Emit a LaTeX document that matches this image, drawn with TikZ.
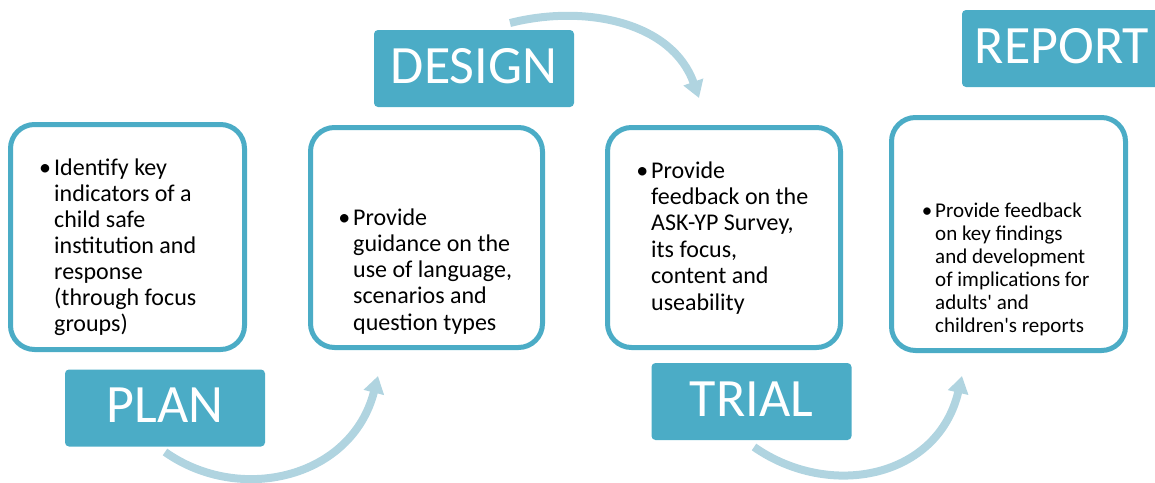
\documentclass[tikz,border=0pt]{standalone}
\usepackage{fontspec}
\setmainfont{Carlito}[Ligatures=TeXOff]
\usetikzlibrary{arrows.meta}
\definecolor{accent}{HTML}{4BACC6}
\definecolor{arrowc}{RGB}{176,212,224}
\tikzset{
  stepbox/.style={draw=accent, line width=5pt, fill=white, rounded corners=24pt, inner sep=0pt},
  labelbox/.style={fill=accent, text=white, rounded corners=4pt, minimum width=200pt, minimum height=77pt,
    text height=35pt, text depth=6pt, inner sep=0pt, font=\fontsize{54}{60}\selectfont},
  bodytext/.style={anchor=base west, inner sep=0pt, text=black},
  flow/.style={draw=arrowc, line width=8pt, -{Triangle[length=17pt,width=20pt]}},
}
\newcommand{\bul}{\leavevmode\llap{\textbullet\hspace{3pt}}}
\begin{document}
\begin{tikzpicture}[x=1pt,y=-1pt]
\useasboundingbox (0,0) rectangle (1155,482);
% arrows (behind)
\coordinate (a1s) at (165,452);
\coordinate (a1e) at (378,376);
\coordinate (a2s) at (754,447);
\coordinate (a2e) at (962,376);
\coordinate (a3s) at (510,23);
\coordinate (a3e) at (699,98);
\draw[flow] (a1s) .. controls (240,505) and (352,478) .. (a1e);
\draw[flow] (a2s) .. controls (830,500) and (938,478) .. (a2e);
\draw[flow] (a3s) .. controls (585,4) and (672,22) .. (a3e);
% step boxes
\node[stepbox, minimum width=234pt, minimum height=225pt] (b1) at (127.5,237) {};
\node[stepbox, minimum width=232pt, minimum height=220pt] (b2) at (426.5,237.5) {};
\node[stepbox, minimum width=233pt, minimum height=220pt] (b3) at (724,237.5) {};
\node[stepbox, minimum width=234pt, minimum height=233pt] (b4) at (1008.5,234) {};
% texts
\node[bodytext] (t1) at (54,175) {\parbox[t]{190pt}{\fontsize{24}{26}\selectfont\bul Identify key\\indicators of a\\child safe\\institution and\\response\\(through focus\\groups)}};
\node[bodytext] (t2) at (353,225) {\parbox[t]{190pt}{\fontsize{24}{26.25}\selectfont\bul Provide\\guidance on the\\use of language,\\scenarios and\\question types}};
\node[bodytext] (t3) at (651,178) {\parbox[t]{190pt}{\fontsize{24}{26.4}\selectfont\bul Provide\\feedback on the\\ASK-YP Survey,\\its focus,\\content and\\useability}};
\node[bodytext] (t4) at (935,217) {\parbox[t]{190pt}{\fontsize{21}{23}\selectfont\bul Provide feedback\\on key findings\\and development\\of implications for\\adults' and\\children's reports}};
% labels
\node[labelbox] (plan) at (165,408) {PLAN};
\node[labelbox] (design) at (474,68.5) {DESIGN};
\node[labelbox] (trial) at (751.5,401.5) {TRIAL};
\node[labelbox] (report) at (1062,48.5) {REPORT};
\end{tikzpicture}
\end{document}
